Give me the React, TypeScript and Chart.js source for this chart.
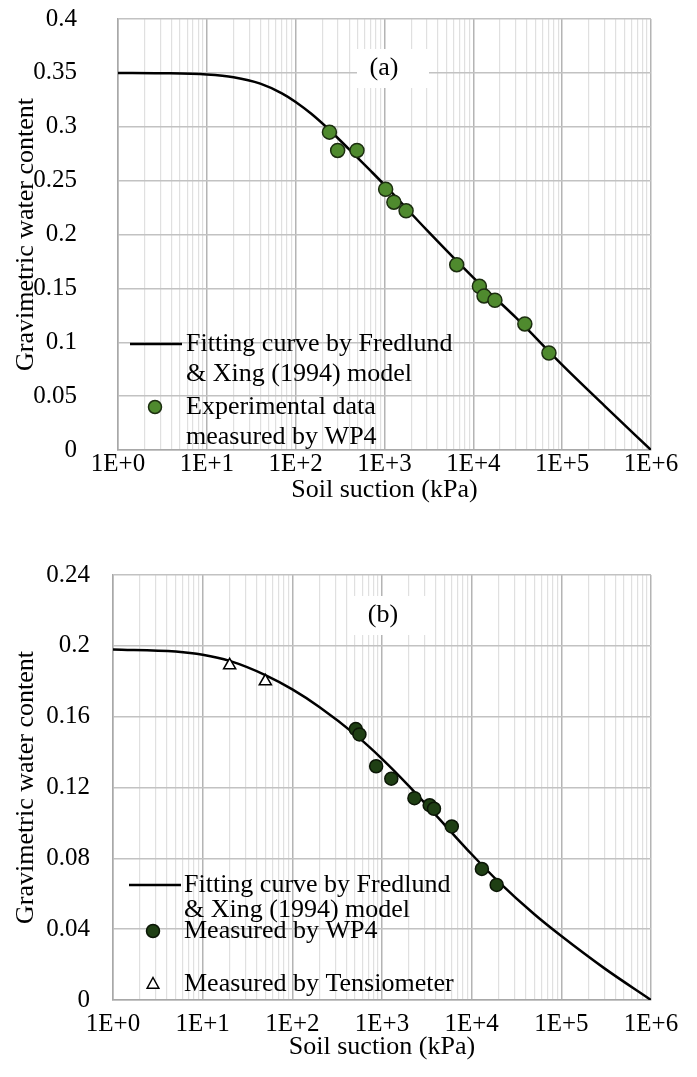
import React, { useEffect, useRef } from 'react';
import { Chart, registerables } from 'chart.js';

Chart.register(...registerables);

// ---------- data ----------
const decadeLabels = ['1E+0', '1E+1', '1E+2', '1E+3', '1E+4', '1E+5', '1E+6'];
const yTicksA = [0, 0.05, 0.1, 0.15, 0.2, 0.25, 0.3, 0.35, 0.4];
const yTicksB = [0, 0.04, 0.08, 0.12, 0.16, 0.2, 0.24];

// (a) fitting curve, Fredlund & Xing (1994)
const fitA_suction = [1, 3, 10, 20, 40, 70, 100, 150, 240, 400, 700, 1000, 3000, 10000, 30000, 100000, 300000, 1000000];
const fitA_water = [0.35, 0.3497, 0.3485, 0.346, 0.34, 0.331, 0.323, 0.312, 0.297, 0.279, 0.259, 0.246, 0.204, 0.16, 0.123, 0.079, 0.041, 0];
// (a) experimental data measured by WP4
const wp4A_suction = [240, 297, 490, 1030, 1275, 1750, 6500, 11700, 13200, 17500, 38000, 71000];
const wp4A_water = [0.295, 0.278, 0.278, 0.242, 0.23, 0.222, 0.172, 0.152, 0.143, 0.139, 0.117, 0.09];

// (b) fitting curve
const fitB_suction = [1, 5, 10, 20, 50, 100, 200, 500, 1000, 2000, 5000, 10000, 20000, 50000, 100000, 300000, 1000000];
const fitB_water = [0.198, 0.1968, 0.195, 0.1915, 0.1835, 0.1754, 0.1655, 0.15, 0.1362, 0.1208, 0.0989, 0.0823, 0.0667, 0.0484, 0.0361, 0.018, 0];
// (b) measured by WP4
const wp4B_suction = [510, 560, 860, 1270, 2300, 3400, 3800, 6000, 13000, 19000];
const wp4B_water = [0.153, 0.15, 0.132, 0.125, 0.114, 0.11, 0.108, 0.098, 0.074, 0.065];
// (b) measured by tensiometer
const tensB_suction = [20, 50];
const tensB_water = [0.189, 0.18];

// ---------- styling ----------
const FONT = "'Liberation Serif', 'Times New Roman', serif";
const TXT = '#000000';
const GREEN_A = '#4f8a2e';
const GREEN_A_BORDER = '#1c2e10';
const GREEN_B = '#1f3f14';
const GREEN_B_BORDER = '#0b1606';

const pts = (xs: number[], ys: number[]) => xs.map((x, i) => ({ x, y: ys[i] }));

const isDecade = (v: number) => Math.abs(Math.log10(v) - Math.round(Math.log10(v))) < 1e-9;

function logTicks() {
  const out: { value: number }[] = [];
  for (let k = 0; k < 6; k++) {
    for (let m = 1; m <= 9; m++) out.push({ value: m * Math.pow(10, k) });
  }
  out.push({ value: 1e6 });
  return out;
}

interface LegendItem {
  kind: 'line' | 'circle' | 'triangle';
  symbolX: number;
  symbolY: number;
  lines: { text: string; y: number }[];
  fill?: string;
  stroke?: string;
}

interface PanelCfg {
  canvasH: number;
  padTop: number;
  plotBottom: number;
  yWidth: number;
  yLabelPad: number;
  xLabelPad: number;
  xTitlePadBottom: number;
  yTicks: number[];
  yMax: number;
  panel: { text: string; x: number; y: number; bx: number; by: number; bw: number; bh: number };
  legendTextX: number;
  legend: LegendItem[];
  datasets: any[];
}

function overlayPlugin(cfg: PanelCfg) {
  return {
    id: 'overlay',
    afterDraw(chart: any) {
      const ctx = chart.ctx as CanvasRenderingContext2D;
      ctx.save();
      // panel label with white background
      const p = cfg.panel;
      ctx.fillStyle = '#ffffff';
      ctx.fillRect(p.bx, p.by, p.bw, p.bh);
      ctx.fillStyle = TXT;
      ctx.font = `26px ${FONT}`;
      ctx.textAlign = 'center';
      ctx.textBaseline = 'middle';
      ctx.fillText(p.text, p.x, p.y);
      // legend
      ctx.textAlign = 'left';
      for (const it of cfg.legend) {
        if (it.kind === 'line') {
          ctx.strokeStyle = '#000';
          ctx.lineWidth = 2.5;
          ctx.beginPath();
          ctx.moveTo(it.symbolX - 26, it.symbolY);
          ctx.lineTo(it.symbolX + 26, it.symbolY);
          ctx.stroke();
        } else if (it.kind === 'circle') {
          ctx.fillStyle = it.fill || '#000';
          ctx.strokeStyle = it.stroke || '#000';
          ctx.lineWidth = 1.5;
          ctx.beginPath();
          ctx.arc(it.symbolX, it.symbolY, 6.5, 0, Math.PI * 2);
          ctx.fill();
          ctx.stroke();
        } else {
          const r = 6.5;
          ctx.fillStyle = '#fff';
          ctx.strokeStyle = '#000';
          ctx.lineWidth = 1.5;
          ctx.beginPath();
          ctx.moveTo(it.symbolX, it.symbolY - r);
          ctx.lineTo(it.symbolX + r * 0.9, it.symbolY + r * 0.65);
          ctx.lineTo(it.symbolX - r * 0.9, it.symbolY + r * 0.65);
          ctx.closePath();
          ctx.fill();
          ctx.stroke();
        }
        ctx.fillStyle = TXT;
        ctx.font = `26px ${FONT}`;
        for (const ln of it.lines) ctx.fillText(ln.text, cfg.legendTextX, ln.y);
      }
      ctx.restore();
    },
  };
}

function makeConfig(cfg: PanelCfg): any {
  return {
    type: 'scatter',
    data: { datasets: cfg.datasets },
    plugins: [overlayPlugin(cfg)],
    options: {
      animation: false,
      responsive: false,
      devicePixelRatio: 1,
      layout: { padding: { left: 0, right: 46, top: cfg.padTop, bottom: 0 } },
      plugins: { legend: { display: false }, tooltip: { enabled: false }, title: { display: false } },
      scales: {
        x: {
          type: 'logarithmic',
          min: 1,
          max: 1e6,
          afterFit: (s: any) => {
            s.height = cfg.canvasH - cfg.plotBottom;
          },
          afterBuildTicks: (s: any) => {
            s.ticks = logTicks();
          },
          ticks: {
            autoSkip: false,
            maxRotation: 0,
            minRotation: 0,
            padding: cfg.xLabelPad,
            color: TXT,
            font: { family: FONT, size: 25, lineHeight: 1 },
            callback: (v: number) => (isDecade(v) ? decadeLabels[Math.round(Math.log10(v))] : ''),
          },
          grid: {
            drawTicks: false,
            color: (c: any) => (c.tick && isDecade(c.tick.value) ? '#b4b4b4' : '#e0e0e0'),
            lineWidth: (c: any) => (c.tick && isDecade(c.tick.value) ? 1.5 : 1.2),
          },
          border: { display: true, color: '#a8a8a8', width: 1.5 },
          title: {
            display: true,
            text: 'Soil suction (kPa)',
            color: TXT,
            font: { family: FONT, size: 26 },
            padding: { top: 0, bottom: cfg.xTitlePadBottom },
          },
        },
        y: {
          type: 'linear',
          min: 0,
          max: cfg.yMax,
          afterFit: (s: any) => {
            s.width = cfg.yWidth;
            s.paddingTop = 0;
            s.paddingBottom = 0;
          },
          afterBuildTicks: (s: any) => {
            s.ticks = cfg.yTicks.map((v) => ({ value: v }));
          },
          ticks: {
            padding: cfg.yLabelPad,
            color: TXT,
            font: { family: FONT, size: 25 },
            callback: (v: number) => String(v),
          },
          grid: { drawTicks: false, color: '#c2c2c2', lineWidth: 1.5 },
          border: { display: true, color: '#a8a8a8', width: 1.5 },
          title: {
            display: true,
            text: 'Gravimetric water content',
            color: TXT,
            font: { family: FONT, size: 26 },
            padding: { top: 11, bottom: 0 },
          },
        },
      },
    },
  };
}

const curveDs = (xs: number[], ys: number[]) => ({
  type: 'line',
  data: pts(xs, ys),
  showLine: true,
  borderColor: '#000',
  borderWidth: 2.5,
  pointRadius: 0,
  fill: false,
  cubicInterpolationMode: 'monotone',
  order: 2,
});

const panelA: PanelCfg = {
  canvasH: 540,
  padTop: 19,
  plotBottom: 450,
  yWidth: 118,
  yLabelPad: 41,
  xLabelPad: 2,
  xTitlePadBottom: 34,
  yTicks: yTicksA,
  yMax: 0.4,
  panel: { text: '(a)', x: 384, y: 68, bx: 357, by: 49, bw: 72, bh: 39 },
  legendTextX: 186,
  legend: [
    {
      kind: 'line',
      symbolX: 156,
      symbolY: 344,
      lines: [
        { text: 'Fitting curve by Fredlund', y: 344 },
        { text: '& Xing (1994) model', y: 374 },
      ],
    },
    {
      kind: 'circle',
      symbolX: 155,
      symbolY: 407,
      fill: GREEN_A,
      stroke: GREEN_A_BORDER,
      lines: [
        { text: 'Experimental data', y: 407 },
        { text: 'measured by WP4', y: 437 },
      ],
    },
  ],
  datasets: [
    {
      label: 'Experimental data measured by WP4',
      data: pts(wp4A_suction, wp4A_water),
      pointRadius: 7,
      pointBackgroundColor: GREEN_A,
      pointBorderColor: GREEN_A_BORDER,
      pointBorderWidth: 1.5,
      order: 1,
    },
    { label: 'Fitting curve by Fredlund & Xing (1994) model', ...curveDs(fitA_suction, fitA_water) },
  ],
};

const B_TOP = 540;
const panelB: PanelCfg = {
  canvasH: 537,
  padTop: 35,
  plotBottom: 460,
  yWidth: 113,
  yLabelPad: 23,
  xLabelPad: 12,
  xTitlePadBottom: 14,
  yTicks: yTicksB,
  yMax: 0.24,
  panel: { text: '(b)', x: 383, y: 615 - B_TOP, bx: 354, by: 596 - B_TOP, bw: 72, bh: 39 },
  legendTextX: 184,
  legend: [
    {
      kind: 'line',
      symbolX: 155,
      symbolY: 885 - B_TOP,
      lines: [
        { text: 'Fitting curve by Fredlund', y: 885 - B_TOP },
        { text: '& Xing (1994) model', y: 910 - B_TOP },
      ],
    },
    {
      kind: 'circle',
      symbolX: 153,
      symbolY: 931 - B_TOP,
      fill: GREEN_B,
      stroke: GREEN_B_BORDER,
      lines: [{ text: 'Measured by WP4', y: 931 - B_TOP }],
    },
    {
      kind: 'triangle',
      symbolX: 153,
      symbolY: 984 - B_TOP,
      lines: [{ text: 'Measured by Tensiometer', y: 984 - B_TOP }],
    },
  ],
  datasets: [
    {
      label: 'Measured by WP4',
      data: pts(wp4B_suction, wp4B_water),
      pointRadius: 6.5,
      pointBackgroundColor: GREEN_B,
      pointBorderColor: GREEN_B_BORDER,
      pointBorderWidth: 1.5,
      order: 1,
    },
    {
      label: 'Measured by Tensiometer',
      data: pts(tensB_suction, tensB_water),
      pointStyle: 'triangle',
      pointRadius: 7,
      pointBackgroundColor: '#ffffff',
      pointBorderColor: '#000000',
      pointBorderWidth: 1.5,
      order: 1,
    },
    { label: 'Fitting curve by Fredlund & Xing (1994) model', ...curveDs(fitB_suction, fitB_water) },
  ],
};

function ChartCanvas({ cfg, top }: { cfg: PanelCfg; top: number }) {
  const ref = useRef<HTMLCanvasElement | null>(null);
  useEffect(() => {
    if (!ref.current) return;
    const chart = new Chart(ref.current, makeConfig(cfg));
    return () => chart.destroy();
  }, [cfg]);
  return (
    <canvas
      ref={ref}
      width={697}
      height={cfg.canvasH}
      style={{ position: 'absolute', left: 0, top, width: 697, height: cfg.canvasH, display: 'block' }}
    />
  );
}

export default function App() {
  return (
    <div style={{ position: 'absolute', left: 0, top: 0, width: 697, height: 1077, background: '#ffffff', overflow: 'hidden' }}>
      <ChartCanvas cfg={panelA} top={0} />
      <ChartCanvas cfg={panelB} top={B_TOP} />
    </div>
  );
}
